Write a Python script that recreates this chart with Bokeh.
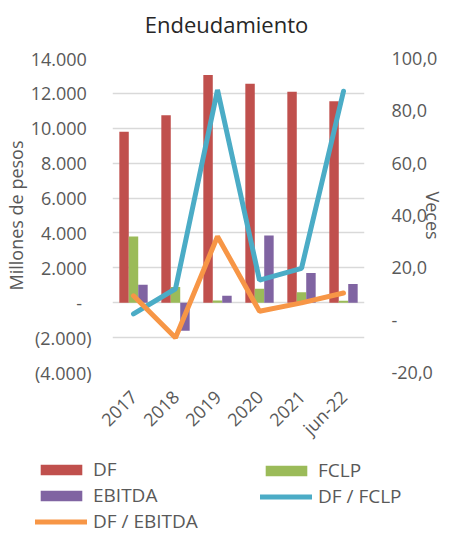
import math
from bokeh.plotting import figure
from bokeh.layouts import column
from bokeh.models import (Range1d, LinearAxis, FixedTicker, CustomJSTickFormatter,
                          Legend, LegendItem, ColumnDataSource)
from bokeh.core.properties import value
from bokeh.transform import dodge
from bokeh.embed import file_html
from bokeh.resources import INLINE

title_text = "Endeudamiento"
left_axis_title = "Millones de pesos"
right_axis_title = "Veces"
categories = ["2017", "2018", "2019", "2020", "2021", "jun-22"]
df_values = [9800, 10750, 13050, 12550, 12100, 11550]
fclp_values = [3800, 900, 130, 800, 600, 110]
ebitda_values = [1030, -1600, 400, 3850, 1700, 1080]
df_fclp_values = [2.4, 12.0, 88.0, 15.3, 19.8, 87.5]
df_ebitda_values = [9.3, -6.7, 32.0, 3.4, 6.6, 10.4]
left_ticks = [-4000, -2000, 0, 2000, 4000, 6000, 8000, 10000, 12000, 14000]
right_ticks = [-20, 0, 20, 40, 60, 80, 100]

FONT = "Open Sans"
TXT = "#595959"
C_DF = "#C0504D"
C_FCLP = "#9BBB59"
C_EBITDA = "#8064A2"
C_L1 = "#4BACC6"
C_L2 = "#F79646"
W = 448
H_TITLE = 46
H_MAIN = 404
H_LEG = 84


def no_align(fig):
    try:
        fig.frame_align = False
    except Exception:
        pass


def bare(fig):
    fig.outline_line_color = None
    fig.grid.visible = False
    fig.background_fill_color = None
    fig.border_fill_color = None


# ---------- title strip ----------
pt = figure(width=W, height=H_TITLE, x_range=Range1d(0, W), y_range=Range1d(0, H_TITLE),
            min_border=0, x_axis_location=None, y_axis_location=None,
            toolbar_location=None, output_backend="svg")
bare(pt)
no_align(pt)
pt.text(x=[226], y=[23], text=[title_text], text_font=value(FONT),
        text_font_size="22px", text_align="center", text_baseline="middle",
        text_color="#262626")

# ---------- main chart ----------
src = ColumnDataSource(dict(cat=categories, df=df_values, fclp=fclp_values,
                            ebitda=ebitda_values, l1=df_fclp_values, l2=df_ebitda_values))

p = figure(x_range=categories, y_range=Range1d(-4000, 14000),
           width=W, height=H_MAIN, output_backend="svg", toolbar_location=None,
           min_border_left=105, min_border_right=83, min_border_top=12, min_border_bottom=76)
p.extra_y_ranges = {"right": Range1d(-20, 100)}
p.outline_line_color = None
no_align(p)

bw = 0.225
r_df = p.vbar(x=dodge("cat", -bw, range=p.x_range), top="df", width=bw, source=src,
              fill_color=C_DF, line_color=None)
r_fclp = p.vbar(x=dodge("cat", 0, range=p.x_range), top="fclp", width=bw, source=src,
                fill_color=C_FCLP, line_color=None)
r_eb = p.vbar(x=dodge("cat", bw, range=p.x_range), top="ebitda", width=bw, source=src,
              fill_color=C_EBITDA, line_color=None)
r_l1 = p.line(x="cat", y="l1", source=src, y_range_name="right", line_color=C_L1,
              line_width=5, line_cap="round")
r_l2 = p.line(x="cat", y="l2", source=src, y_range_name="right", line_color=C_L2,
              line_width=5, line_cap="round")

p.xgrid.visible = False
p.ygrid.ticker = FixedTicker(ticks=left_ticks)
p.ygrid.grid_line_color = "#D9D9D9"
p.ygrid.grid_line_width = 1.5


def style_axis(ax):
    ax.axis_line_color = None
    ax.major_tick_line_color = None
    ax.minor_tick_line_color = None
    ax.major_tick_in = 0
    ax.major_tick_out = 0
    ax.minor_tick_in = 0
    ax.minor_tick_out = 0
    ax.major_label_text_font = FONT
    ax.major_label_text_font_size = "18px"
    ax.major_label_text_color = TXT
    ax.axis_label_text_font = FONT
    ax.axis_label_text_font_size = "18px"
    ax.axis_label_text_font_style = "normal"
    ax.axis_label_text_color = TXT


yl = p.yaxis[0]
style_axis(yl)
yl.ticker = FixedTicker(ticks=left_ticks)
yl.formatter = CustomJSTickFormatter(code="""
    if (tick == 0) return "-\\u00a0\\u00a0";
    const s = Math.abs(tick).toFixed(0).replace(/\\B(?=(\\d{3})+(?!\\d))/g, ".");
    return tick < 0 ? "(" + s + ")" : s + "\\u00a0";
""")
yl.axis_label = left_axis_title
yl.major_label_standoff = 21
yl.axis_label_standoff = 0

yr = LinearAxis(y_range_name="right", ticker=FixedTicker(ticks=right_ticks),
                formatter=CustomJSTickFormatter(code="""
    if (tick == 0) return "-";
    return tick.toFixed(1).replace(".", ",");
"""), axis_label=right_axis_title)
style_axis(yr)
yr.major_label_standoff = 27
yr.axis_label_standoff = -19
p.add_layout(yr, "right")

xa = p.xaxis[0]
style_axis(xa)
xa.major_label_orientation = math.pi / 4
xa.major_label_standoff = 21

# ---------- legend strip ----------
pl = figure(width=W, height=H_LEG, x_range=Range1d(0, 1), y_range=Range1d(0, 1),
            min_border=0, x_axis_location=None, y_axis_location=None,
            toolbar_location=None, output_backend="svg")
bare(pl)
no_align(pl)
g_df = pl.vbar(x=[5], top=[5], bottom=[4], width=0.1, fill_color=C_DF, line_color=None)
g_fclp = pl.vbar(x=[5], top=[5], bottom=[4], width=0.1, fill_color=C_FCLP, line_color=None)
g_eb = pl.vbar(x=[5], top=[5], bottom=[4], width=0.1, fill_color=C_EBITDA, line_color=None)
g_l1 = pl.line(x=[5, 6], y=[5, 5], line_color=C_L1, line_width=5, line_cap="round")
g_l2 = pl.line(x=[5, 6], y=[5, 5], line_color=C_L2, line_width=5, line_cap="round")

leg_common = dict(glyph_width=52, glyph_height=13, label_standoff=6, label_height=20,
                  spacing=-1, padding=0, margin=0, border_line_color=None,
                  background_fill_alpha=0, label_text_font=FONT,
                  label_text_font_size="19px", label_text_color=TXT)
leg1 = Legend(items=[LegendItem(label="DF", renderers=[g_df]),
                     LegendItem(label="EBITDA", renderers=[g_eb]),
                     LegendItem(label="DF / EBITDA", renderers=[g_l2])],
              location=(35, 0), **leg_common)
leg2 = Legend(items=[LegendItem(label="FCLP", renderers=[g_fclp]),
                     LegendItem(label="DF / FCLP", renderers=[g_l1])],
              location=(260, 25), **leg_common)
pl.add_layout(leg1)
pl.add_layout(leg2)

layout = column(pt, p, pl, spacing=0)
open("out.html", "w").write(file_html(layout, INLINE))
